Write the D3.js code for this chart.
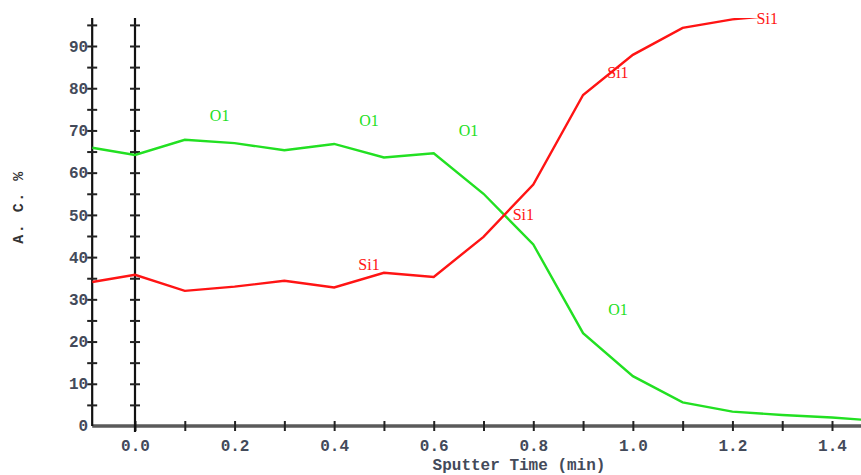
<!DOCTYPE html>
<html lang="en">
<head>
<meta charset="UTF-8">
<title>Sputter depth profile</title>
<style>
    body { margin: 0; background: #fff; }
    svg { display: block; }
    .tick text { font-family: "Liberation Mono", monospace; font-weight: bold; font-size: 16px; fill: #434a5a; }
    .lbl { font-family: "Liberation Serif", serif; font-size: 16px; }
</style>
</head>
<body>
<svg id="chart"></svg>
<script src="https://d3js.org/d3.v7.min.js"></script>
<script>
    // Sputter time (min) and atomic concentration (%)
    const time = [-0.086, 0.0, 0.1, 0.2, 0.3, 0.4, 0.5, 0.6, 0.7, 0.8, 0.9, 1.0, 1.1, 1.2, 1.3, 1.4, 1.46];
    const o1  = [65.9, 64.2, 67.8, 67.0, 65.3, 66.8, 63.6, 64.6, 55.0, 43.0, 22.0, 11.8, 5.6, 3.4, 2.6, 2.0, 1.5];
    const si1 = [34.1, 35.8, 32.0, 33.0, 34.4, 32.8, 36.3, 35.3, 44.8, 57.2, 78.4, 87.9, 94.3, 96.3, 97.4, 98.0, 98.3];

    // annotations placed along the curves: [time, value]
    const o1Labels  = [[0.17, 73.5], [0.47, 72.3], [0.67, 70.0], [0.97, 27.5]];
    const si1Labels = [[0.47, 38.2], [0.97, 83.8], [0.78, 50.0], [1.27, 96.6]];

    const yTicks = d3.range(0, 100, 5);
    const xTicks = d3.range(0, 15).map(i => i / 10);

    const width = 861, height = 475;
    const svg = d3.select('#chart').attr('width', width).attr('height', height);

    const x = d3.scaleLinear().domain([0, 1.4]).range([135, 832]);
    const y = d3.scaleLinear().domain([0, 90]).range([426, 46]);
    const plotTop = 18;

    svg.append('clipPath').attr('id', 'clip')
        .append('rect')
        .attr('x', x(-0.086)).attr('y', plotTop)
        .attr('width', width - x(-0.086)).attr('height', y(0) - plotTop);

    // x axis: grey bar with small ticks every 0.1
    const xAxis = svg.append('g')
        .attr('transform', `translate(0,${y(0)})`)
        .call(d3.axisBottom(x).tickValues(xTicks).tickSize(5)
            .tickFormat(d => (Math.round(d * 10) % 2 === 0) ? d.toFixed(1) : ''));
    xAxis.select('.domain').remove();
    xAxis.insert('line', ':first-child')
        .attr('x1', x(-0.086)).attr('x2', width)
        .attr('stroke', '#5a5a5a').attr('stroke-width', 3.5);
    xAxis.selectAll('.tick line')
        .attr('y1', -5).attr('stroke', '#222').attr('stroke-width', 2);
    xAxis.selectAll('.tick text').attr('dy', '1.05em');

    // vertical axes (left edge and at t = 0), ticks drawn as crosses
    [-0.086, 0].forEach((t, i) => {
        const g = svg.append('g')
            .attr('transform', `translate(${x(t)},0)`)
            .call(d3.axisLeft(y).tickValues(yTicks.filter(v => v > 0)).tickSize(5)
                .tickFormat(i === 0 ? (d => d % 10 === 0 ? d : '') : ''));
        g.select('.domain').remove();
        g.insert('line', ':first-child')
            .attr('y1', plotTop).attr('y2', i === 0 ? y(0) : y(0) + 6)
            .attr('stroke', '#111').attr('stroke-width', 2.2);
        g.selectAll('.tick line').attr('x1', 5).attr('stroke', '#222').attr('stroke-width', 2);
        g.selectAll('.tick text').attr('x', -4);
    });
    svg.append('text')
        .attr('x', x(-0.086) - 4).attr('y', y(0))
        .attr('dy', '0.32em').attr('text-anchor', 'end')
        .style('font-family', '"Liberation Mono", monospace').style('font-weight', 'bold')
        .style('font-size', '16px').style('fill', '#434a5a')
        .text('0');

    // series
    const line = d3.line().x((d, i) => x(time[i])).y(d => y(d));
    const plot = svg.append('g').attr('clip-path', 'url(#clip)');
    plot.append('path').datum(o1).attr('d', line)
        .attr('fill', 'none').attr('stroke', '#22e022').attr('stroke-width', 2.4);
    plot.append('path').datum(si1).attr('d', line)
        .attr('fill', 'none').attr('stroke', '#ff1414').attr('stroke-width', 2.4);

    svg.selectAll('.o1lbl').data(o1Labels).enter().append('text')
        .attr('class', 'lbl').attr('fill', '#22e022')
        .attr('x', d => x(d[0])).attr('y', d => y(d[1]))
        .attr('text-anchor', 'middle').attr('dy', '0.35em')
        .text('O1');
    svg.selectAll('.silbl').data(si1Labels).enter().append('text')
        .attr('class', 'lbl').attr('fill', '#ff1414')
        .attr('x', d => x(d[0])).attr('y', d => y(d[1]))
        .attr('text-anchor', 'middle').attr('dy', '0.35em')
        .text('Si1');

    // axis titles
    svg.append('text')
        .attr('x', 519).attr('y', 470)
        .attr('text-anchor', 'middle')
        .style('font-family', '"Liberation Mono", monospace').style('font-weight', 'bold')
        .style('font-size', '16px').style('fill', '#434a5a')
        .text('Sputter Time (min)');
    svg.append('text')
        .attr('transform', 'translate(23,207) rotate(-90)')
        .attr('text-anchor', 'middle')
        .style('font-family', '"Liberation Mono", monospace').style('font-weight', 'bold')
        .style('font-size', '15px').style('letter-spacing', '1.5px').style('fill', '#333')
        .text('A. C. %');
</script>
</body>
</html>
